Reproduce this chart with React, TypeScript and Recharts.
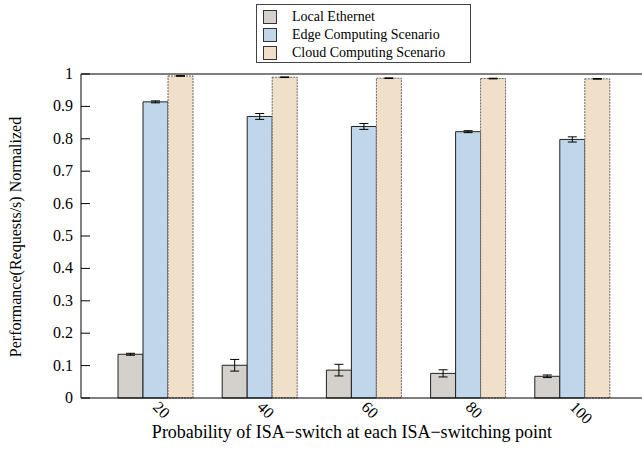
import React from "react";
import { Bar, BarChart, ErrorBar, ReferenceLine, XAxis, YAxis } from "recharts";

const categories = ["20", "40", "60", "80", "100"];
const localEthernet = [0.135, 0.101, 0.086, 0.076, 0.067];
const localEthernetErr = [0.003, 0.018, 0.018, 0.011, 0.004];
const edgeComputing = [0.914, 0.869, 0.838, 0.822, 0.798];
const edgeComputingErr = [0.003, 0.009, 0.009, 0.003, 0.008];
const cloudComputing = [0.994, 0.99, 0.987, 0.986, 0.985];
const cloudComputingErr = [0.001, 0.001, 0.001, 0.001, 0.001];
const yTicks = [0, 0.1, 0.2, 0.3, 0.4, 0.5, 0.6, 0.7, 0.8, 0.9, 1];

const seriesNames = ["Local Ethernet", "Edge Computing Scenario", "Cloud Computing Scenario"];
const seriesColors = ["#d4d1cc", "#c0d7eb", "#f0e0c9"];

const data = categories.map((c, i) => ({
  name: c,
  local: localEthernet[i],
  localErr: localEthernetErr[i],
  edge: edgeComputing[i],
  edgeErr: edgeComputingErr[i],
  cloud: cloudComputing[i],
  cloudErr: cloudComputingErr[i],
}));

const font = "Liberation Serif, Times New Roman, DejaVu Serif, serif";

function LeftTick(props: any) {
  const { x, y, payload } = props;
  return (
    <g>
      <line x1={x} x2={x + 9} y1={y} y2={y} stroke="#000" />
      <text x={x - 8} y={y + 5} textAnchor="end" fontSize={16} fontFamily={font} fill="#000">
        {payload.value}
      </text>
    </g>
  );
}

function XTick(props: any) {
  const { x, y, payload } = props;
  const tx = x - 3;
  const ty = y + 10;
  return (
    <text
      x={tx}
      y={ty}
      transform={`rotate(45 ${tx} ${ty})`}
      textAnchor="start"
      fontSize={16}
      fontFamily={font}
      fill="#000"
    >
      {payload.value}
    </text>
  );
}

function Legend() {
  return (
    <div
      style={{
        position: "absolute",
        left: 256,
        top: 4,
        width: 213,
        height: 57,
        border: "1px solid #444",
        fontFamily: font,
        fontSize: 14,
      }}
    >
      {seriesNames.map((n, i) => (
        <div key={n} style={{ position: "absolute", left: 6, top: 5 + i * 18, height: 14, display: "flex", alignItems: "center" }}>
          <div style={{ width: 12, height: 12, background: seriesColors[i], border: "1px solid #333" }} />
          <span style={{ marginLeft: 15 }}>{n}</span>
        </div>
      ))}
    </div>
  );
}

export default function App() {
  return (
    <div style={{ position: "fixed", left: 0, top: 0, width: 642, height: 462, background: "#fff", overflow: "hidden" }}>
      <Legend />
      <BarChart
        width={646}
        height={462}
        data={data}
        margin={{ top: 74, right: 0, left: 0, bottom: 0 }}
        barGap={0}
        barCategoryGap={0}
        barSize={25}
      >
        <XAxis
          dataKey="name"
          axisLine={{ stroke: "#000" }}
          tickLine={false}
          tickSize={0}
          tickMargin={0}
          tick={<XTick />}
          padding={{ left: 22, right: 22 }}
          height={64}
          interval={0}
        />
        <YAxis
          yAxisId="left"
          domain={[0, 1]}
          ticks={yTicks}
          width={81}
          axisLine={{ stroke: "#000" }}
          tickLine={false}
          tickSize={0}
          tickMargin={0}
          tick={<LeftTick />}
          interval={0}
        />
        <YAxis
          yAxisId="right"
          orientation="right"
          domain={[0, 1]}
          ticks={yTicks}
          width={0}
          mirror
          axisLine={false}
          tickLine={{ stroke: "#000" }}
          tickSize={9}
          tick={() => <g />}
          interval={0}
        />
        <ReferenceLine yAxisId="left" y={1} stroke="#000" />
        <Bar yAxisId="left" dataKey="local" name={seriesNames[0]} fill={seriesColors[0]} stroke="#222" strokeWidth={1} isAnimationActive={false}>
          <ErrorBar dataKey="localErr" width={4.5} stroke="#000" strokeWidth={1} />
        </Bar>
        <Bar yAxisId="left" dataKey="edge" name={seriesNames[1]} fill={seriesColors[1]} stroke="#222" strokeWidth={1} isAnimationActive={false}>
          <ErrorBar dataKey="edgeErr" width={4.5} stroke="#000" strokeWidth={1} />
        </Bar>
        <Bar yAxisId="left" dataKey="cloud" name={seriesNames[2]} fill={seriesColors[2]} stroke="#666" strokeDasharray="2 1" strokeWidth={1} isAnimationActive={false}>
          <ErrorBar dataKey="cloudErr" width={4.5} stroke="#000" strokeWidth={1} />
        </Bar>
      </BarChart>
      <div
        style={{
          position: "absolute",
          left: 352,
          top: 432,
          transform: "translate(-50%, -50%)",
          whiteSpace: "nowrap",
          fontFamily: font,
          fontSize: 18,
        }}
      >
        Probability of ISA−switch at each ISA−switching point
      </div>
      <div
        style={{
          position: "absolute",
          left: 16,
          top: 237,
          transform: "translate(-50%, -50%) rotate(-90deg)",
          whiteSpace: "nowrap",
          fontFamily: font,
          fontSize: 16,
        }}
      >
        Performance(Requests/s) Normalized
      </div>
    </div>
  );
}
